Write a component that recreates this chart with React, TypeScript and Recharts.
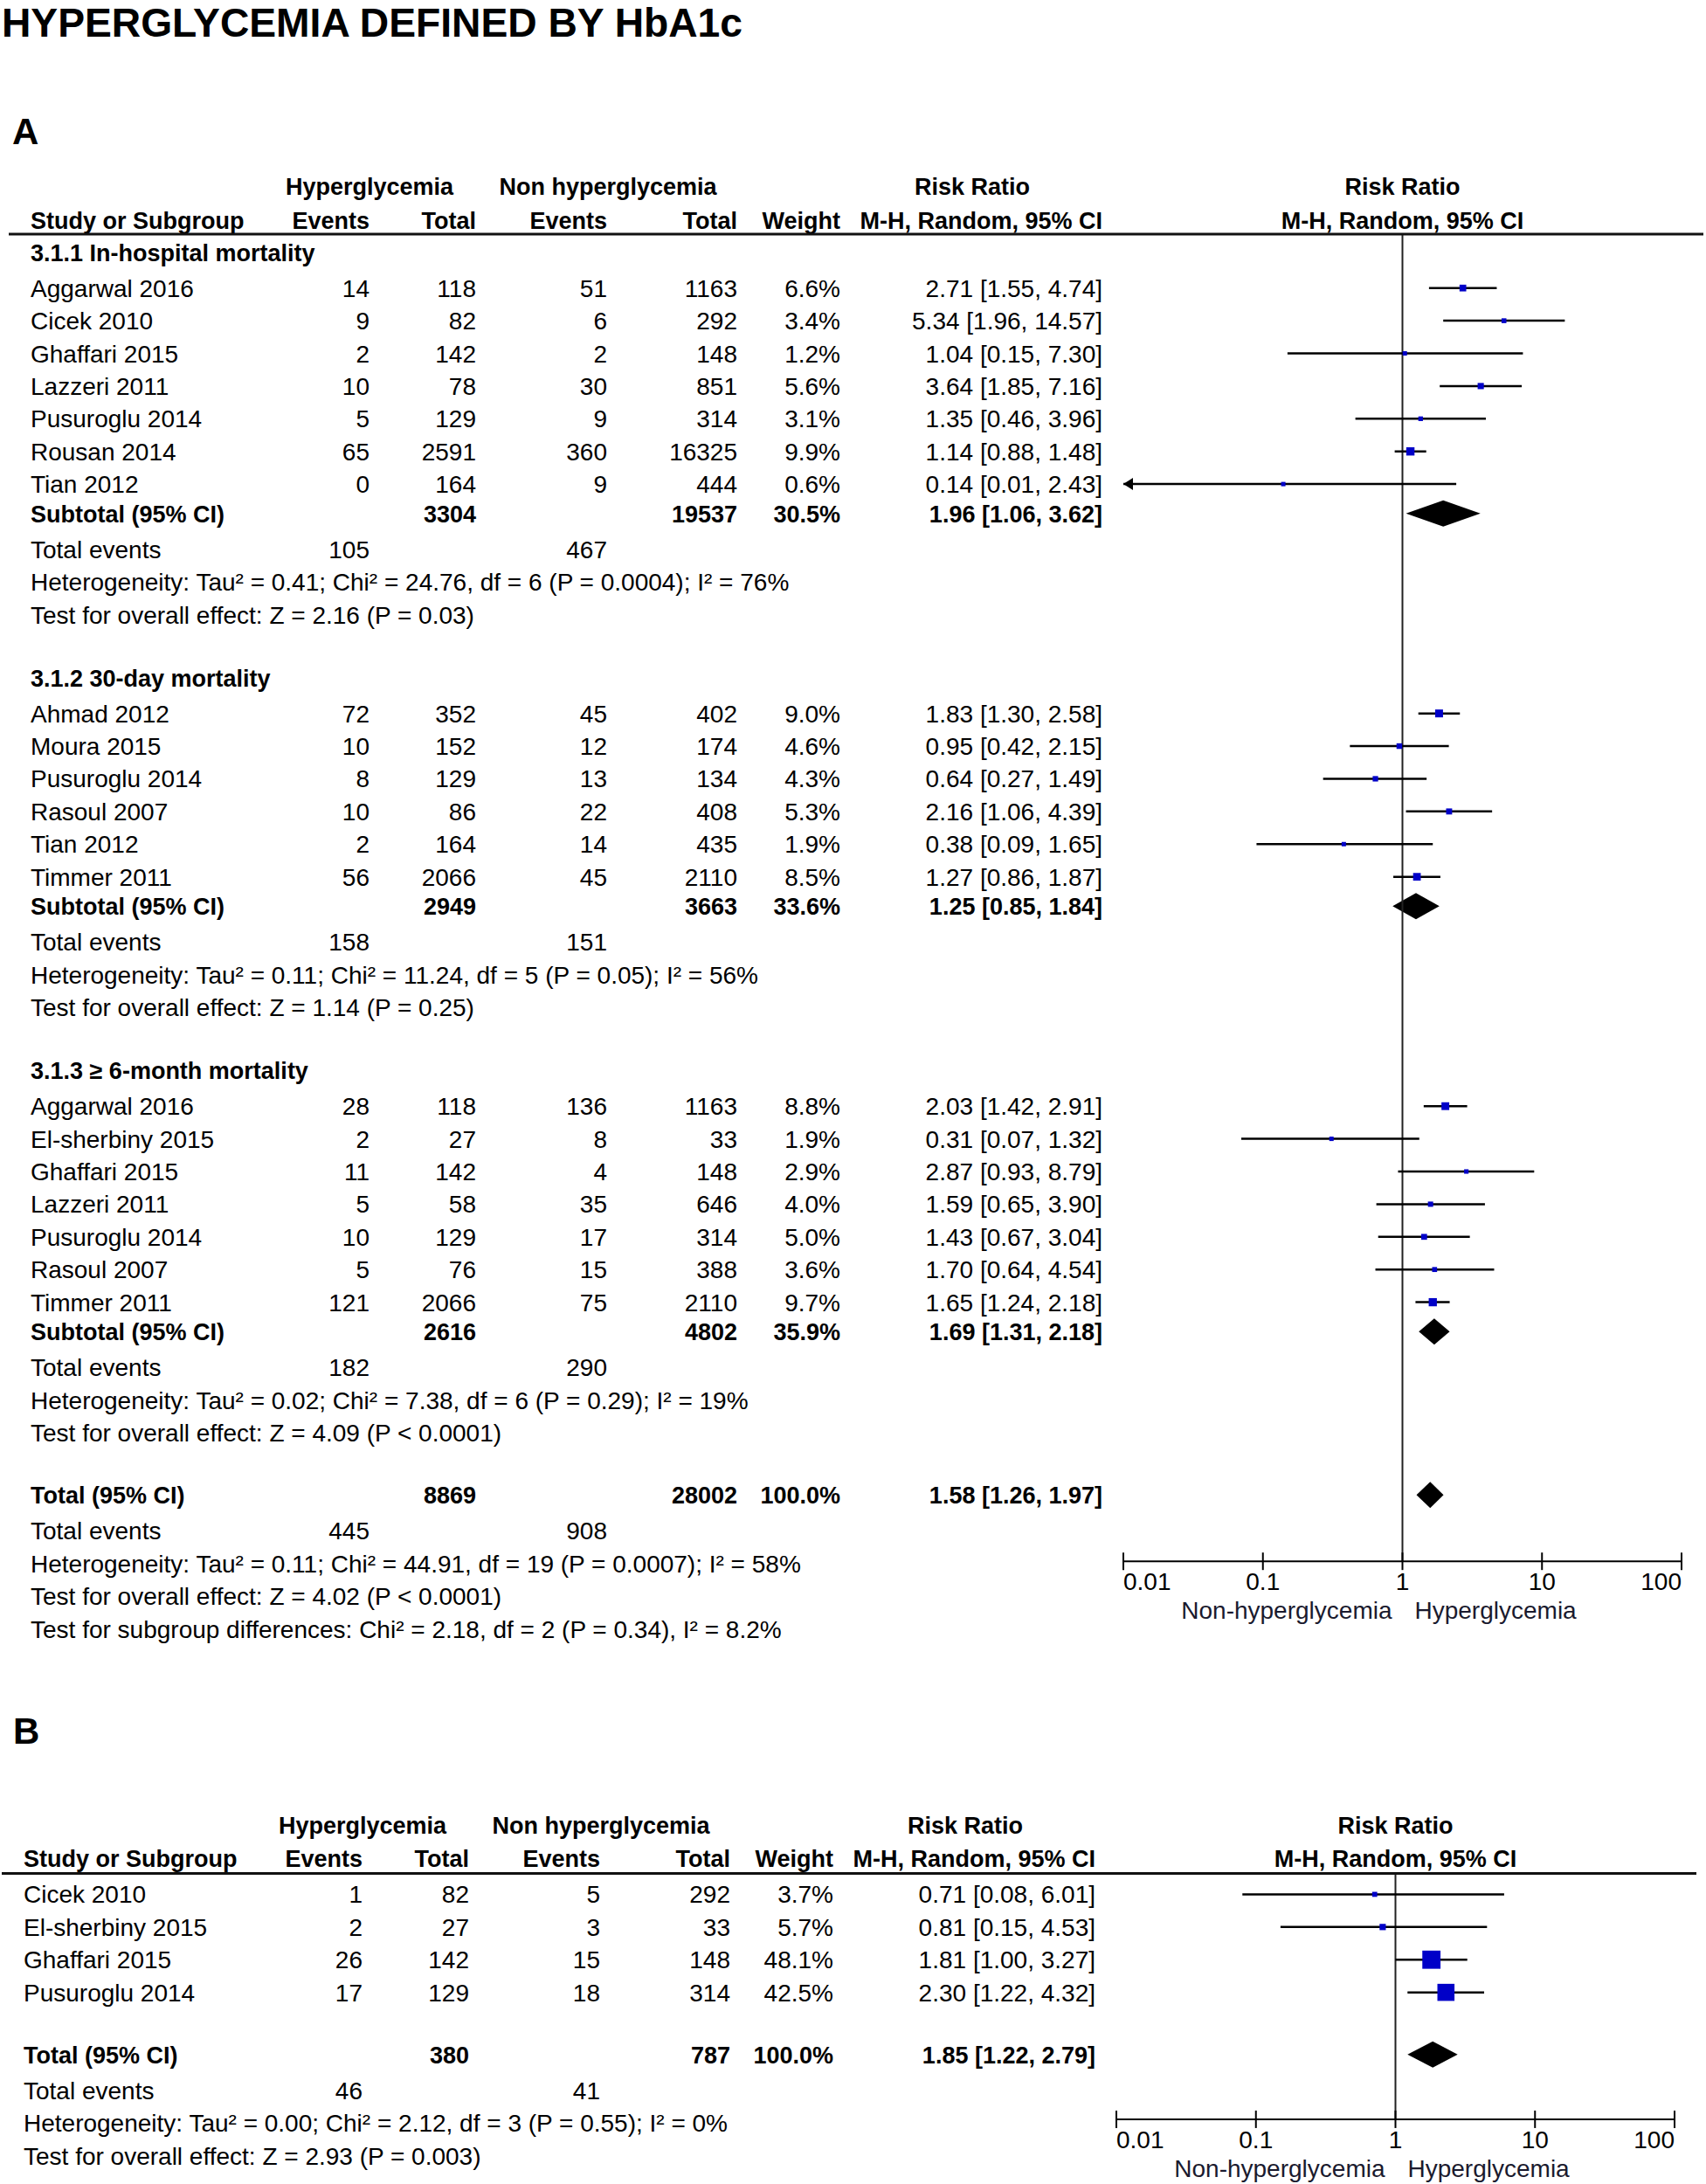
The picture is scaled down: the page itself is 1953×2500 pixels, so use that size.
import React from "react";
import { ComposedChart, XAxis, YAxis, Scatter, ReferenceLine, ReferenceArea } from "recharts";

// ---------- data ----------
interface Study { study: string; evH: number; totH: number; evN: number; totN: number; weight: number; rr: number; lo: number; hi: number }
interface Pooled { totH: number; totN: number; weight: number; rr: number; lo: number; hi: number; evH: number; evN: number }

const inHospital: Study[] = [
  { study: "Aggarwal 2016", evH: 14, totH: 118, evN: 51, totN: 1163, weight: 6.6, rr: 2.71, lo: 1.55, hi: 4.74 },
  { study: "Cicek 2010", evH: 9, totH: 82, evN: 6, totN: 292, weight: 3.4, rr: 5.34, lo: 1.96, hi: 14.57 },
  { study: "Ghaffari 2015", evH: 2, totH: 142, evN: 2, totN: 148, weight: 1.2, rr: 1.04, lo: 0.15, hi: 7.3 },
  { study: "Lazzeri 2011", evH: 10, totH: 78, evN: 30, totN: 851, weight: 5.6, rr: 3.64, lo: 1.85, hi: 7.16 },
  { study: "Pusuroglu 2014", evH: 5, totH: 129, evN: 9, totN: 314, weight: 3.1, rr: 1.35, lo: 0.46, hi: 3.96 },
  { study: "Rousan 2014", evH: 65, totH: 2591, evN: 360, totN: 16325, weight: 9.9, rr: 1.14, lo: 0.88, hi: 1.48 },
  { study: "Tian 2012", evH: 0, totH: 164, evN: 9, totN: 444, weight: 0.6, rr: 0.14, lo: 0.01, hi: 2.43 },
];
const inHospitalPooled: Pooled = { totH: 3304, totN: 19537, weight: 30.5, rr: 1.96, lo: 1.06, hi: 3.62, evH: 105, evN: 467 };
const inHospitalNotes = [
  "Heterogeneity: Tau² = 0.41; Chi² = 24.76, df = 6 (P = 0.0004); I² = 76%",
  "Test for overall effect: Z = 2.16 (P = 0.03)",
];

const thirtyDay: Study[] = [
  { study: "Ahmad 2012", evH: 72, totH: 352, evN: 45, totN: 402, weight: 9.0, rr: 1.83, lo: 1.3, hi: 2.58 },
  { study: "Moura 2015", evH: 10, totH: 152, evN: 12, totN: 174, weight: 4.6, rr: 0.95, lo: 0.42, hi: 2.15 },
  { study: "Pusuroglu 2014", evH: 8, totH: 129, evN: 13, totN: 134, weight: 4.3, rr: 0.64, lo: 0.27, hi: 1.49 },
  { study: "Rasoul 2007", evH: 10, totH: 86, evN: 22, totN: 408, weight: 5.3, rr: 2.16, lo: 1.06, hi: 4.39 },
  { study: "Tian 2012", evH: 2, totH: 164, evN: 14, totN: 435, weight: 1.9, rr: 0.38, lo: 0.09, hi: 1.65 },
  { study: "Timmer 2011", evH: 56, totH: 2066, evN: 45, totN: 2110, weight: 8.5, rr: 1.27, lo: 0.86, hi: 1.87 },
];
const thirtyDayPooled: Pooled = { totH: 2949, totN: 3663, weight: 33.6, rr: 1.25, lo: 0.85, hi: 1.84, evH: 158, evN: 151 };
const thirtyDayNotes = [
  "Heterogeneity: Tau² = 0.11; Chi² = 11.24, df = 5 (P = 0.05); I² = 56%",
  "Test for overall effect: Z = 1.14 (P = 0.25)",
];

const sixMonth: Study[] = [
  { study: "Aggarwal 2016", evH: 28, totH: 118, evN: 136, totN: 1163, weight: 8.8, rr: 2.03, lo: 1.42, hi: 2.91 },
  { study: "El-sherbiny 2015", evH: 2, totH: 27, evN: 8, totN: 33, weight: 1.9, rr: 0.31, lo: 0.07, hi: 1.32 },
  { study: "Ghaffari 2015", evH: 11, totH: 142, evN: 4, totN: 148, weight: 2.9, rr: 2.87, lo: 0.93, hi: 8.79 },
  { study: "Lazzeri 2011", evH: 5, totH: 58, evN: 35, totN: 646, weight: 4.0, rr: 1.59, lo: 0.65, hi: 3.9 },
  { study: "Pusuroglu 2014", evH: 10, totH: 129, evN: 17, totN: 314, weight: 5.0, rr: 1.43, lo: 0.67, hi: 3.04 },
  { study: "Rasoul 2007", evH: 5, totH: 76, evN: 15, totN: 388, weight: 3.6, rr: 1.7, lo: 0.64, hi: 4.54 },
  { study: "Timmer 2011", evH: 121, totH: 2066, evN: 75, totN: 2110, weight: 9.7, rr: 1.65, lo: 1.24, hi: 2.18 },
];
const sixMonthPooled: Pooled = { totH: 2616, totN: 4802, weight: 35.9, rr: 1.69, lo: 1.31, hi: 2.18, evH: 182, evN: 290 };
const sixMonthNotes = [
  "Heterogeneity: Tau² = 0.02; Chi² = 7.38, df = 6 (P = 0.29); I² = 19%",
  "Test for overall effect: Z = 4.09 (P < 0.0001)",
];

const subgroupTitles = ["3.1.1 In-hospital mortality", "3.1.2 30-day mortality", "3.1.3 ≥ 6-month mortality"];

const totalA: Pooled = { totH: 8869, totN: 28002, weight: 100, rr: 1.58, lo: 1.26, hi: 1.97, evH: 445, evN: 908 };
const totalANotes = [
  "Heterogeneity: Tau² = 0.11; Chi² = 44.91, df = 19 (P = 0.0007); I² = 58%",
  "Test for overall effect: Z = 4.02 (P < 0.0001)",
  "Test for subgroup differences: Chi² = 2.18, df = 2 (P = 0.34), I² = 8.2%",
];

const panelBStudies: Study[] = [
  { study: "Cicek 2010", evH: 1, totH: 82, evN: 5, totN: 292, weight: 3.7, rr: 0.71, lo: 0.08, hi: 6.01 },
  { study: "El-sherbiny 2015", evH: 2, totH: 27, evN: 3, totN: 33, weight: 5.7, rr: 0.81, lo: 0.15, hi: 4.53 },
  { study: "Ghaffari 2015", evH: 26, totH: 142, evN: 15, totN: 148, weight: 48.1, rr: 1.81, lo: 1.0, hi: 3.27 },
  { study: "Pusuroglu 2014", evH: 17, totH: 129, evN: 18, totN: 314, weight: 42.5, rr: 2.3, lo: 1.22, hi: 4.32 },
];
const totalB: Pooled = { totH: 380, totN: 787, weight: 100, rr: 1.85, lo: 1.22, hi: 2.79, evH: 46, evN: 41 };
const totalBNotes = [
  "Heterogeneity: Tau² = 0.00; Chi² = 2.12, df = 3 (P = 0.55); I² = 0%",
  "Test for overall effect: Z = 2.93 (P = 0.003)",
];

const ratioTicks = [0.01, 0.1, 1, 10, 100];
const favours = ["Non-hyperglycemia", "Hyperglycemia"];

// ---------- layout ----------
const FONT = '"Liberation Sans", Arial, Helvetica, sans-serif';
const UNIT_PX = 37.4;
const BLUE = "#0000c8";

type Row = { y: number; kind: string; [k: string]: any };

function blockRows(rows: Row[], start: number, studies: Study[], pooled: Pooled, label: string, notes: string[], gapToPooled: number) {
  let y = start;
  studies.forEach((s, i) => {
    if (i > 0) y += 1;
    rows.push({ y, kind: "study", s });
  });
  y += gapToPooled;
  rows.push({ y, kind: "pooled", p: pooled, label });
  y += 1.1;
  rows.push({ y, kind: "events", p: pooled });
  notes.forEach((t) => {
    y += 1;
    rows.push({ y, kind: "note", text: t });
  });
  return y;
}

function layoutA() {
  const rows: Row[] = [
    { y: -2.02, kind: "head1" },
    { y: -0.98, kind: "head2" },
    { y: -0.55, kind: "rule" },
  ];
  const groups = [
    [inHospital, inHospitalPooled, inHospitalNotes],
    [thirtyDay, thirtyDayPooled, thirtyDayNotes],
    [sixMonth, sixMonthPooled, sixMonthNotes],
  ] as [Study[], Pooled, string[]][];
  let y = 0;
  groups.forEach(([studies, pooled, notes], gi) => {
    if (gi > 0) y += 1.92;
    rows.push({ y, kind: "heading", text: subgroupTitles[gi] });
    y = blockRows(rows, y + 1.1, studies, pooled, "Subtotal (95% CI)", notes, 0.9);
  });
  const totalY = y + 1.9;
  rows.push({ y: totalY, kind: "pooled", p: totalA, label: "Total (95% CI)" });
  let yy = totalY + 1.1;
  rows.push({ y: yy, kind: "events", p: totalA });
  totalANotes.forEach((t) => {
    yy += 1;
    rows.push({ y: yy, kind: "note", text: t });
  });
  return { rows, domain: [-0.55, totalY + 2.03] as [number, number] };
}

function layoutB() {
  const rows: Row[] = [
    { y: -2.13, kind: "head1" },
    { y: -1.1, kind: "head2" },
    { y: -0.64, kind: "rule" },
  ];
  let y = 0;
  panelBStudies.forEach((s, i) => {
    if (i > 0) y += 1;
    rows.push({ y, kind: "study", s });
  });
  const totalY = y + 1.9;
  rows.push({ y: totalY, kind: "pooled", p: totalB, label: "Total (95% CI)" });
  let yy = totalY + 1.1;
  rows.push({ y: yy, kind: "events", p: totalB });
  totalBNotes.forEach((t) => {
    yy += 1;
    rows.push({ y: yy, kind: "note", text: t });
  });
  return { rows, domain: [-0.64, totalY + 1.985] as [number, number] };
}

const colsA = { name: 35, evH: 423, totH: 545, evN: 695, totN: 844, weight: 962, ci: 1262, hyper: 423, non: 696, rr: 1113, ruleFrom: 10, ruleTo: 1950 };
const shiftCols = (c: typeof colsA, d: number) =>
  Object.fromEntries(Object.entries(c).map(([k, v]) => [k, v + d])) as typeof colsA;
const colsB = shiftCols(colsA, -8);

const fmtCI = (p: { rr: number; lo: number; hi: number }) => `${p.rr.toFixed(2)} [${p.lo.toFixed(2)}, ${p.hi.toFixed(2)}]`;
const fmtW = (w: number) => `${w.toFixed(1)}%`;

function Txt({ x, y, children, anchor = "start", bold = false }: any) {
  return (
    <text x={x} y={y} textAnchor={anchor} fontSize={bold ? 27 : 28} fontWeight={bold ? 700 : 400} fill="#000" fontFamily={FONT}>
      {children}
    </text>
  );
}

function TableTick(props: any) {
  const { y, payload, rowMap, cols, plotMid } = props;
  const row: Row | undefined = rowMap.get(payload.value);
  if (!row) return null;
  const b = y + 10;
  switch (row.kind) {
    case "head1":
      return (
        <g>
          <Txt x={cols.hyper} y={b} anchor="middle" bold>Hyperglycemia</Txt>
          <Txt x={cols.non} y={b} anchor="middle" bold>Non hyperglycemia</Txt>
          <Txt x={cols.rr} y={b} anchor="middle" bold>Risk Ratio</Txt>
          <Txt x={plotMid} y={b} anchor="middle" bold>Risk Ratio</Txt>
        </g>
      );
    case "head2":
      return (
        <g>
          <Txt x={cols.name} y={b} bold>Study or Subgroup</Txt>
          <Txt x={cols.evH} y={b} anchor="end" bold>Events</Txt>
          <Txt x={cols.totH} y={b} anchor="end" bold>Total</Txt>
          <Txt x={cols.evN} y={b} anchor="end" bold>Events</Txt>
          <Txt x={cols.totN} y={b} anchor="end" bold>Total</Txt>
          <Txt x={cols.weight} y={b} anchor="end" bold>Weight</Txt>
          <Txt x={cols.ci} y={b} anchor="end" bold>M-H, Random, 95% CI</Txt>
          <Txt x={plotMid} y={b} anchor="middle" bold>M-H, Random, 95% CI</Txt>
        </g>
      );
    case "rule":
      return <line x1={cols.ruleFrom} x2={cols.ruleTo} y1={y} y2={y} stroke="#111" strokeWidth={3} />;
    case "heading":
      return <Txt x={cols.name} y={b} bold>{row.text}</Txt>;
    case "study": {
      const s: Study = row.s;
      return (
        <g>
          <Txt x={cols.name} y={b}>{s.study}</Txt>
          <Txt x={cols.evH} y={b} anchor="end">{s.evH}</Txt>
          <Txt x={cols.totH} y={b} anchor="end">{s.totH}</Txt>
          <Txt x={cols.evN} y={b} anchor="end">{s.evN}</Txt>
          <Txt x={cols.totN} y={b} anchor="end">{s.totN}</Txt>
          <Txt x={cols.weight} y={b} anchor="end">{fmtW(s.weight)}</Txt>
          <Txt x={cols.ci} y={b} anchor="end">{fmtCI(s)}</Txt>
        </g>
      );
    }
    case "pooled": {
      const p: Pooled = row.p;
      return (
        <g>
          <Txt x={cols.name} y={b} bold>{row.label}</Txt>
          <Txt x={cols.totH} y={b} anchor="end" bold>{p.totH}</Txt>
          <Txt x={cols.totN} y={b} anchor="end" bold>{p.totN}</Txt>
          <Txt x={cols.weight} y={b} anchor="end" bold>{fmtW(p.weight)}</Txt>
          <Txt x={cols.ci} y={b} anchor="end" bold>{fmtCI(p)}</Txt>
        </g>
      );
    }
    case "events":
      return (
        <g>
          <Txt x={cols.name} y={b}>Total events</Txt>
          <Txt x={cols.evH} y={b} anchor="end">{row.p.evH}</Txt>
          <Txt x={cols.evN} y={b} anchor="end">{row.p.evN}</Txt>
        </g>
      );
    case "note":
      return <Txt x={cols.name} y={b}>{row.text}</Txt>;
  }
  return null;
}

function RatioTick(props: any) {
  const { x, y, payload } = props;
  const v = payload.value;
  const anchor = v === ratioTicks[0] ? "start" : v === ratioTicks[ratioTicks.length - 1] ? "end" : "middle";
  return (
    <g>
      <line x1={x} x2={x} y1={y - 10} y2={y + 10} stroke="#000" strokeWidth={2} />
      <Txt x={x} y={y + 33} anchor={anchor}>{String(v)}</Txt>
      {v === 1 && (
        <g>
          <text x={x - 12} y={y + 66} textAnchor="end" fontSize={28} fill="#1a1a2e" fontFamily={FONT}>{favours[0]}</text>
          <text x={x + 14} y={y + 66} fontSize={28} fill="#1a1a2e" fontFamily={FONT}>{favours[1]}</text>
        </g>
      )}
    </g>
  );
}

const squareShape = (props: any) => {
  const { cx, cy, payload } = props;
  const s = Math.max(5, 3 * Math.sqrt(payload.w));
  return <rect x={cx - s / 2} y={cy - s / 2} width={s} height={s} fill={BLUE} />;
};

const arrowShape = (props: any) => {
  const { cx, cy } = props;
  return <polygon points={`${cx},${cy} ${cx + 11},${cy - 7} ${cx + 11},${cy + 7}`} fill="#000" />;
};

const diamondShape = (p: Pooled) => (props: any) => {
  const { x, y, width, height } = props;
  const f = Math.log(p.rr / p.lo) / Math.log(p.hi / p.lo);
  const px = x + f * width;
  const cy = y + height / 2;
  return <polygon points={`${x},${cy} ${px},${y} ${x + width},${cy} ${px},${y + height}`} fill="#000" />;
};

interface PanelProps {
  layout: { rows: Row[]; domain: [number, number] };
  cols: typeof colsA;
  top: number;
  marginTop: number;
  axisHeight: number;
  left: number;
  right: number;
}

function ForestPanel({ layout, cols, top, marginTop, axisHeight, left, right }: PanelProps) {
  const { rows, domain } = layout;
  const width = 1953;
  const plotH = (domain[1] - domain[0]) * UNIT_PX;
  const height = Math.round(marginTop + plotH + axisHeight);
  const rowMap = new Map(rows.map((r) => [r.y, r]));
  const plotMid = (left + (width - right)) / 2;
  const studyRows = rows.filter((r) => r.kind === "study");
  const pooledRows = rows.filter((r) => r.kind === "pooled");
  const squares = studyRows.map((r) => ({ x: r.s.rr, y: r.y, w: r.s.weight }));
  const arrows = studyRows.filter((r) => r.s.lo <= ratioTicks[0]).map((r) => ({ x: ratioTicks[0], y: r.y }));

  return (
    <div style={{ position: "absolute", left: 0, top }}>
      <ComposedChart width={width} height={height} margin={{ top: marginTop, right, bottom: 0, left: 0 }}>
        <XAxis
          dataKey="x"
          type="number"
          scale="log"
          domain={[0.01, 100]}
          allowDataOverflow
          ticks={ratioTicks}
          interval={0}
          height={height - marginTop - plotH}
          tickLine={false}
          tickSize={0}
          tickMargin={0}
          axisLine={{ stroke: "#000", strokeWidth: 2 }}
          tick={(p: any) => <RatioTick {...p} />}
        />
        <YAxis
          dataKey="y"
          type="number"
          domain={domain}
          reversed
          allowDataOverflow
          ticks={rows.map((r) => r.y)}
          interval={0}
          width={left}
          axisLine={false}
          tickLine={false}
          tick={(p: any) => <TableTick {...p} rowMap={rowMap} cols={cols} plotMid={plotMid} />}
        />
        <ReferenceLine x={1} stroke="#222" strokeWidth={2} ifOverflow="visible" />
        {studyRows.map((r, i) => (
          <ReferenceLine
            key={`ci-${i}`}
            segment={[
              { x: Math.max(r.s.lo, ratioTicks[0]), y: r.y },
              { x: r.s.hi, y: r.y },
            ]}
            stroke="#000"
            strokeWidth={2.5}
            ifOverflow="visible"
          />
        ))}
        {pooledRows.map((r, i) => (
          <ReferenceArea
            key={`dia-${i}`}
            x1={r.p.lo}
            x2={r.p.hi}
            y1={r.y - 0.4}
            y2={r.y + 0.4}
            ifOverflow="visible"
            shape={diamondShape(r.p)}
          />
        ))}
        <Scatter data={squares} shape={squareShape} isAnimationActive={false} />
        <Scatter data={arrows} shape={arrowShape} isAnimationActive={false} />
      </ComposedChart>
    </div>
  );
}

export default function App() {
  const a = layoutA();
  const b = layoutB();
  return (
    <div style={{ position: "absolute", left: 0, top: 0, width: 1953, height: 2500, background: "#fff", overflow: "hidden" }}>
      <style>{"body{margin:0;overflow:hidden}"}</style>
      <ForestPanel layout={a} cols={colsA} top={0} marginTop={268} axisHeight={113} left={1286} right={28} />
      <ForestPanel layout={b} cols={colsB} top={1935} marginTop={209.5} axisHeight={74} left={1278} right={36} />
      <svg style={{ position: "absolute", left: 0, top: 0 }} width={900} height={64}>
        <text x={2} y={42} fontSize={47} fontWeight={700} fontFamily={FONT} textLength={848} lengthAdjust="spacingAndGlyphs" fill="#000">
          HYPERGLYCEMIA DEFINED BY HbA1c
        </text>
      </svg>
      <svg style={{ position: "absolute", left: 0, top: 120 }} width={80} height={60}>
        <text x={14} y={45} fontSize={42} fontWeight={700} fontFamily={FONT} fill="#000">A</text>
      </svg>
      <svg style={{ position: "absolute", left: 0, top: 1950 }} width={80} height={60}>
        <text x={15} y={46} fontSize={42} fontWeight={700} fontFamily={FONT} fill="#000">B</text>
      </svg>
    </div>
  );
}
